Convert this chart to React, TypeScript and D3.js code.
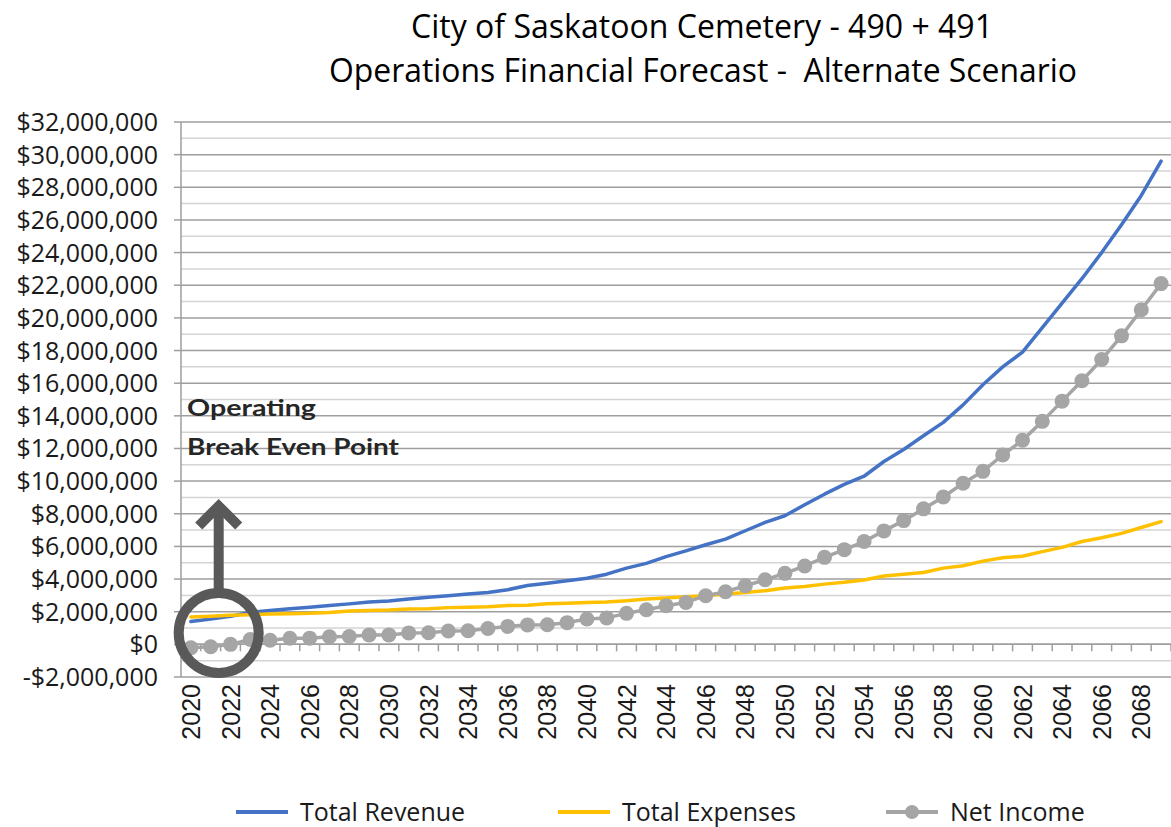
import { useEffect } from "react";
import * as d3 from "d3";

// values in millions of dollars
const years = [
  2020, 2021, 2022, 2023, 2024, 2025, 2026, 2027, 2028, 2029,
  2030, 2031, 2032, 2033, 2034, 2035, 2036, 2037, 2038, 2039,
  2040, 2041, 2042, 2043, 2044, 2045, 2046, 2047, 2048, 2049,
  2050, 2051, 2052, 2053, 2054, 2055, 2056, 2057, 2058, 2059,
  2060, 2061, 2062, 2063, 2064, 2065, 2066, 2067, 2068, 2069,
];

const totalRevenue = [
  1.40, 1.55, 1.72, 1.95, 2.08, 2.18, 2.28, 2.38, 2.48, 2.60,
  2.65, 2.78, 2.88, 2.98, 3.08, 3.18, 3.35, 3.60, 3.75, 3.90,
  4.05, 4.30, 4.67, 4.96, 5.37, 5.73, 6.10, 6.45, 6.96, 7.47,
  7.88, 8.55, 9.20, 9.80, 10.30, 11.20, 11.94, 12.78, 13.60, 14.67,
  15.90, 17.00, 17.90, 19.40, 20.90, 22.40, 24.00, 25.70, 27.50, 29.60,
];

const totalExpenses = [
  1.67, 1.72, 1.78, 1.82, 1.86, 1.88, 1.90, 1.95, 2.05, 2.08,
  2.10, 2.17, 2.18, 2.25, 2.28, 2.30, 2.38, 2.40, 2.48, 2.52,
  2.57, 2.60, 2.67, 2.78, 2.84, 2.92, 2.98, 3.08, 3.18, 3.29,
  3.45, 3.55, 3.69, 3.80, 3.94, 4.19, 4.30, 4.40, 4.67, 4.82,
  5.10, 5.30, 5.40, 5.68, 5.94, 6.30, 6.53, 6.80, 7.16, 7.52,
];

const netIncome = [
  -0.21, -0.15, 0.0, 0.30, 0.25, 0.37, 0.38, 0.47, 0.48, 0.58,
  0.58, 0.70, 0.71, 0.82, 0.83, 0.97, 1.10, 1.19, 1.20, 1.33,
  1.55, 1.62, 1.90, 2.12, 2.37, 2.57, 2.98, 3.22, 3.59, 3.96,
  4.35, 4.80, 5.33, 5.80, 6.30, 6.95, 7.58, 8.30, 9.03, 9.87,
  10.60, 11.60, 12.50, 13.66, 14.90, 16.15, 17.45, 18.90, 20.50, 22.10,
];

const yTicks = [-2, 0, 2, 4, 6, 8, 10, 12, 14, 16, 18, 20, 22, 24, 26, 28, 30, 32];
const yMinorTicks = [-1, 1, 3, 5, 7, 9, 11, 13, 15, 17, 19, 21, 23, 25, 27, 29, 31];
const xLabelYears = years.filter((y, i) => i % 2 === 0);

const seriesNames = ["Total Revenue", "Total Expenses", "Net Income"];
const seriesColors = ["#4472c4", "#ffc000", "#a5a5a5"];

const W = 1171;
const H = 827;
const plot = { left: 181, right: 1171, top: 122, bottom: 677 };

const fmtMoney = (m: number) => {
  if (m === 0) return "$0";
  const s = d3.format(",")(Math.abs(m) * 1e6);
  return (m < 0 ? "-$" : "$") + s;
};

export default function App() {
  useEffect(() => {
    document.body.style.margin = "0";
  }, []);

  const x = d3.scaleBand<number>().domain(years).range([plot.left, plot.right]);
  const y = d3.scaleLinear().domain([-2, 32]).range([plot.bottom, plot.top]);
  const cx = (yr: number) => (x(yr) as number) + x.bandwidth() / 2;

  const line = d3
    .line<number>()
    .x((d, i) => cx(years[i]))
    .y((d) => y(d));

  const zeroY = y(0);

  // circle around the break even point with an arrow pointing up
  const circX = cx(2021) + 8;
  const circY = y(0.7);

  return (
    <svg width={W} height={H} style={{ display: "block", background: "#fff" }}>
      {/* title */}
      <g fontFamily="'Open Sans', sans-serif" fill="#000" textAnchor="middle" fontSize={32}>
        <text x={702} y={38} textLength={582} lengthAdjust="spacingAndGlyphs">
          City of Saskatoon Cemetery - 490 + 491
        </text>
        <text x={703} y={82} textLength={748} lengthAdjust="spacingAndGlyphs" xmlSpace="preserve">
          {"Operations Financial Forecast -  Alternate Scenario"}
        </text>
      </g>

      {/* gridlines */}
      <g>
        {yMinorTicks.map((t) => (
          <line key={"m" + t} x1={plot.left} x2={plot.right} y1={y(t)} y2={y(t)} stroke="#d4d4d4" strokeWidth={1.5} />
        ))}
        {yTicks.map((t) => (
          <line key={"g" + t} x1={plot.left} x2={plot.right} y1={y(t)} y2={y(t)} stroke="#9e9e9e" strokeWidth={1.5} />
        ))}
      </g>

      {/* y axis */}
      <g>
        <line x1={plot.left} x2={plot.left} y1={plot.top} y2={plot.bottom} stroke="#9e9e9e" strokeWidth={1.5} />
        {yTicks.map((t) => (
          <line key={"t" + t} x1={plot.left - 7} x2={plot.left} y1={y(t)} y2={y(t)} stroke="#9e9e9e" strokeWidth={1.5} />
        ))}
        {yTicks.map((t) => (
          <text
            key={"l" + t}
            x={158}
            y={y(t)}
            dy="0.36em"
            textAnchor="end"
            fontFamily="'Open Sans', sans-serif"
            fontSize={25}
            fill="#1a1a1a"
          >
            {fmtMoney(t)}
          </text>
        ))}
      </g>

      {/* x axis at zero */}
      <g>
        <line x1={plot.left} x2={plot.right} y1={zeroY} y2={zeroY} stroke="#9e9e9e" strokeWidth={1.5} />
        {years.map((yr) => (
          <line
            key={"xt" + yr}
            x1={(x(yr) as number) + x.bandwidth()}
            x2={(x(yr) as number) + x.bandwidth()}
            y1={zeroY}
            y2={zeroY + 7}
            stroke="#9e9e9e"
            strokeWidth={1.5}
          />
        ))}
        {xLabelYears.map((yr) => (
          <text
            key={"xl" + yr}
            transform={`translate(${cx(yr)},${684}) rotate(-90)`}
            dy="0.36em"
            textAnchor="end"
            fontFamily="'Liberation Sans', Arial, sans-serif"
            fontSize={25}
            fill="#1a1a1a"
          >
            {yr}
          </text>
        ))}
      </g>

      {/* series */}
      <g fill="none" strokeLinejoin="round" strokeLinecap="round">
        <path d={line(totalRevenue) as string} stroke={seriesColors[0]} strokeWidth={3.5} />
        <path d={line(totalExpenses) as string} stroke={seriesColors[1]} strokeWidth={3.5} />
        <path d={line(netIncome) as string} stroke={seriesColors[2]} strokeWidth={3.5} />
      </g>
      <g fill={seriesColors[2]}>
        {netIncome.map((v, i) => (
          <circle key={"p" + i} cx={cx(years[i])} cy={y(v)} r={7.5} />
        ))}
      </g>

      {/* annotation */}
      <g fill="none" stroke="#595959" strokeWidth={10}>
        <circle cx={circX} cy={circY} r={40} />
        <line x1={circX} x2={circX} y1={circY - 40} y2={508} />
        <polyline points={`${circX - 20},${526} ${circX},${506} ${circX + 20},${526}`} strokeLinecap="butt" />
      </g>
      <g fontFamily="Lato, sans-serif" fontWeight={700} fontSize={23} fill="#262626">
        <text x={187} y={416} textLength={129} lengthAdjust="spacingAndGlyphs">Operating</text>
        <text x={187} y={455} textLength={212} lengthAdjust="spacingAndGlyphs">Break Even Point</text>
      </g>

      {/* legend */}
      <g fontFamily="'Open Sans', sans-serif" fontSize={25} fill="#1a1a1a">
        {[
          { x0: 236, tx: 300 },
          { x0: 558, tx: 622 },
          { x0: 886, tx: 950 },
        ].map((l, i) => (
          <g key={"lg" + i}>
            <line x1={l.x0} x2={l.x0 + 52} y1={812} y2={812} stroke={seriesColors[i]} strokeWidth={4} />
            {i === 2 && <circle cx={l.x0 + 26} cy={812} r={7} fill={seriesColors[2]} />}
            <text x={l.tx} y={812} dy="0.36em">{seriesNames[i]}</text>
          </g>
        ))}
      </g>
    </svg>
  );
}
